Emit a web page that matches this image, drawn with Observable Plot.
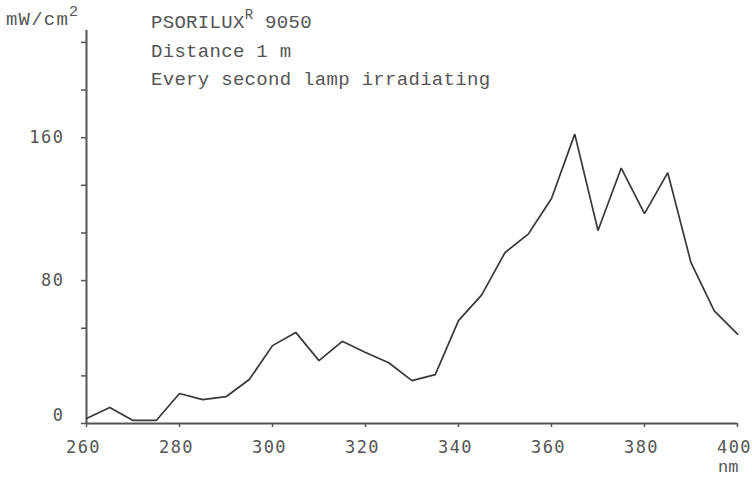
<!DOCTYPE html>
<html><head><meta charset="utf-8">
<script src="https://cdn.jsdelivr.net/npm/d3@7"></script>
<script src="https://cdn.jsdelivr.net/npm/@observablehq/plot@0.6"></script>
<style>
body{margin:0;background:#fff}
svg{display:block}
</style>
</head><body><div id="chart"></div>
<script>
const wavelengths = [260,265,270,275,280,285,290,295,300,305,310,315,320,325,330,335,340,345,350,355,358,360,365,370,375,380,385,390,395,400];
const irradiance  = [2.8,9,1.7,1.7,16.8,13.4,15,24.6,43.6,51,35.2,46,39.7,34,24,27.4,57.6,72,95.7,106,118,126,162,108,143,117.5,140.4,90,63,50];
const xTicks = [260,280,300,320,340,360,380,400];
const yMinorTicks = [0,1,2,3,4,5,6,7,8].map(k => k*80/3);
const yLabels = [80,160];
const yZero = [0];
const titleLines = ["Distance 1 m","Every second lamp irradiating"];

const data = wavelengths.map((w,i) => ({w, v: irradiance[i]}));

const tickFont = {fontFamily: "'DejaVu Sans Mono', monospace", fontSize: 17, fill: "#555"};

const plot = Plot.plot({
  width: 752, height: 477,
  marginLeft: 86, marginRight: 15, marginTop: 30, marginBottom: 54,
  style: {background: "#fff", color: "#555", fontFamily: "'DejaVu Sans Mono', monospace", fontSize: "17px"},
  x: {domain: [260, 400], label: null},
  y: {domain: [0, 220], label: null},
  marks: [
    Plot.axisX(xTicks, {tickSize: 4, tickFormat: () => "", stroke: "#555", strokeWidth: 1.5, label: null}),
    Plot.axisX(xTicks, {tickSize: 0, tickPadding: 17, dx: -3, label: null, ...tickFont}),
    Plot.axisY(yMinorTicks, {tickSize: 5, tickFormat: () => "", stroke: "#555", strokeWidth: 1.5, label: null}),
    Plot.axisY(yLabels, {tickSize: 0, tickPadding: 22, label: null, ...tickFont}),
    Plot.axisY(yZero, {tickSize: 0, tickPadding: 22, dy: -8, label: null, ...tickFont}),
    Plot.ruleX([260], {stroke: "#555", strokeWidth: 2}),
    Plot.ruleY([0], {stroke: "#555", strokeWidth: 2}),
    Plot.line(data, {x: "w", y: "v", stroke: "#383838", strokeWidth: 1.7, strokeLinejoin: "miter"})
  ]
});
document.getElementById("chart").appendChild(plot);

const svg = d3.select(plot);
svg.selectAll("text").attr("letter-spacing", 1.5);

const g = svg.append("g")
  .attr("font-family", "'Liberation Mono', monospace")
  .attr("font-size", 19)
  .attr("text-anchor", "start")
  .attr("fill", "#555");

const unit = g.append("text").attr("x", 6).attr("y", 25).attr("letter-spacing", 1.2);
unit.append("tspan").text("mW/cm");
unit.append("tspan").attr("dy", -9).attr("font-size", 15).text("2");

const t1 = g.append("text").attr("x", 151).attr("y", 28).attr("letter-spacing", 0.3);
t1.append("tspan").text("PSORILUX");
t1.append("tspan").attr("dy", -9).attr("font-size", 14).text("R");
t1.append("tspan").attr("dy", 9).text(" 9050");

titleLines.forEach((s, i) => {
  g.append("text").attr("x", 151).attr("y", 57 + i*28).attr("letter-spacing", 0.3).text(s);
});

g.append("text").attr("x", 718).attr("y", 472).attr("font-size", 17).text("nm");
</script>
</body></html>
